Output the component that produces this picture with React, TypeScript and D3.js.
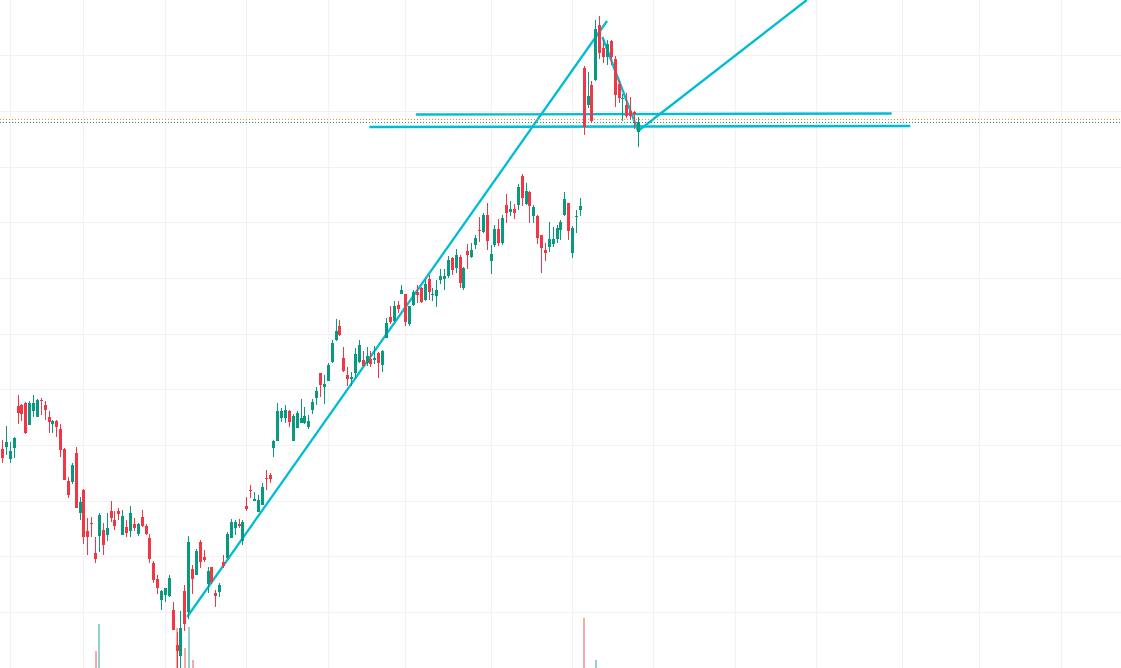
import React from "react";
import * as d3 from "d3";

type Bar = [number, number, number, number]; // open, high, low, close

// price runs in chart units, no axis is shown in the picture
const declineBars: Bar[] = [
  [219,228,205,210],[221,242,213,226],[209,226,205,217],[220,231,210,230],[262,273,244,255],
  [263,264,247,254],[265,266,234,235],[243,267,243,265],[257,273,251,265],[251,269,251,268],
  [268,270,253,267],[263,267,248,258],[251,257,235,246],[244,248,235,247],[247,248,231,241],
  [239,244,211,218],[219,220,188,188],[187,191,170,173],[186,205,184,203],[215,221,160,160],
  [155,171,148,166],[178,179,124,131],[137,150,113,131],[145,151,131,144],[115,131,105,109],
  [132,155,116,153],[138,145,113,123],[133,155,127,140],[157,167,146,150],[148,157,138,142],
  [157,160,148,154],[133,158,133,152],[141,148,131,135],[137,162,131,155],[144,150,137,140],
  [134,145,132,144],[151,158,141,142],[142,144,133,134],[130,134,105,109],[105,107,85,88],
  [89,93,74,80],[68,78,58,77],[73,80,66,80],[72,93,71,90],[58,66,38,38],
  [23,36,-5,17],[12,57,-5,40],
];

const reboundBars: Bar[] = [
  [77,83,37,44],[56,132,49,126],[99,103,74,89],[93,119,93,117],[126,128,100,106],
  [111,118,106,108],[84,101,75,97],[101,101,84,86],[75,78,61,72],[76,85,71,83],
  [106,113,100,102],[110,136,109,134],[130,149,130,146],[140,148,133,146],[144,149,140,142],
  [127,148,123,146],[162,171,157,159],[178,183,170,177],[167,176,167,169],[156,173,156,168],
  [163,185,163,181],[190,198,178,189],[193,195,185,189],[220,228,211,227],[227,265,227,257],
  [250,260,246,257],[250,263,245,258],[257,258,241,246],[227,254,227,252],[240,257,240,255],
  [245,269,245,250],[245,261,244,252],[241,253,239,247],
];

const rallyBars: Bar[] = [
  [258,269,254,266],[270,281,263,277],[295,295,271,283],[281,293,264,284],[287,305,287,303],
  [306,328,305,325],[328,349,327,337],[342,348,332,333],[310,321,296,297],[293,301,282,289],
  [289,296,282,291],[295,320,290,314],[306,328,305,323],[308,317,302,302],[305,321,302,312],
  [309,317,301,304],[308,322,304,310],[315,316,290,305],[303,318,296,317],[330,350,330,345],
  [351,362,344,346],[347,367,346,362],[363,367,355,359],[374,383,374,378],[374,374,342,346],
  [344,362,342,362],[363,378,362,376],[376,383,365,373],[380,381,365,366],[368,389,367,384],
  [389,393,368,376],[373,380,367,374],[372,388,361,378],
];

const toppingBars: Bar[] = [
  [388,399,384,392],[389,399,378,392],[392,412,390,408],[410,411,393,398],[400,419,395,413],
  [411,413,380,385],[380,401,378,400],[417,424,399,413],[411,425,410,418],[423,433,419,430],
  [438,451,426,437],[436,455,435,453],[453,465,418,427],[407,423,394,414],[423,443,421,439],
  [439,449,422,425],[425,453,423,450],[463,474,445,455],[456,467,452,459],[459,464,449,455],
  [463,484,458,481],[492,494,462,470],[464,485,463,477],[476,477,445,462],[452,463,445,461],
  [452,453,424,430],[433,433,395,420],[418,425,407,415],[421,446,416,429],[424,441,421,429],
  [429,443,425,440],[438,448,428,446],[453,476,452,469],[465,465,428,437],[415,442,410,440],
  [451,458,435,452],[458,470,452,462],
];

const spikeBars: Bar[] = [
  [600,602,533,541],[563,596,560,572],[583,587,546,547],[588,648,587,639],[643,652,609,615],
  [620,628,605,611],[611,628,603,624],[627,628,603,611],[609,612,561,573],[584,588,565,570],
  [569,574,547,570],[563,575,550,552],[557,571,548,552],[556,557,539,554],[536,551,521,546],
];

const bars: Bar[] = [...declineBars, ...reboundBars, ...rallyBars, ...toppingBars, ...spikeBars];

// only the volume bars tall enough to reach into the view
const volumeIndex = [24, 25, 45, 47, 48, 49, 150, 153];
const volumeValues = [17, 44, 40, 20, 41, 8, 50, 8];

const gridBars = [2, 21, 42, 63, 84, 104, 126, 147, 168, 189, 210, 232, 252, 273];
const gridPrices = [55.5, 111.5, 166.5, 222.5, 278.5, 333.5, 389.5, 445.5, 500.5, 556.5, 612.5];

// hand drawn trend lines: [bar, price] at both ends
const trendLines: [number, number][][] = [
  [[47.6, 51], [155.9, 647]],
  [[154.7, 631], [163.9, 537]],
  [[163.9, 537], [207.4, 668]],
  [[106.6, 553.5], [229.3, 554.5]],
  [[94.6, 541], [234.1, 542]],
];

const lastPrices = [
  { price: 548.5, color: "#f7931a" },
  { price: 545.5, color: "#089981" },
];

const width = 1121;
const height = 668;
const UP = "#089981";
const DOWN = "#f23645";

export default function App() {
  const x = d3.scaleLinear().domain([0, 164]).range([2.55, 638.46]);
  const y = d3.scaleLinear().domain([0, 668]).range([668, 0]);
  const vol = d3.scaleLinear().domain([0, 50]).range([668, 618]);
  const line = d3
    .line<[number, number]>()
    .x((d) => x(d[0]))
    .y((d) => y(d[1]));
  // candles sit on whole pixels like the original canvas
  const snap = (i: number) => Math.floor(x(i)) + 0.5;

  return (
    <svg
      width={width}
      height={height}
      style={{ position: "absolute", left: 0, top: 0, background: "#fff" }}
    >
      <g stroke="#f2f2f2" shapeRendering="crispEdges">
        {gridBars.map((b) => (
          <line key={b} x1={snap(b)} x2={snap(b)} y1={0} y2={height} />
        ))}
        {gridPrices.map((p) => (
          <line key={p} x1={0} x2={width} y1={y(p)} y2={y(p)} />
        ))}
      </g>

      <g shapeRendering="crispEdges">
        {volumeIndex.map((b, k) => (
          <rect
            key={b}
            x={Math.round(x(b) - 1)}
            y={vol(volumeValues[k])}
            width={2}
            height={height - vol(volumeValues[k])}
            fill={bars[b][3] >= bars[b][0] ? "#92d2cc" : "#f7a9a7"}
          />
        ))}
      </g>

      <g fill="none" stroke="#00bcd4" strokeWidth={2.3}>
        {trendLines.map((l, k) => (
          <path key={k} d={line(l) ?? ""} />
        ))}
      </g>

      {lastPrices.map((d) => (
        <line
          key={d.price}
          x1={0}
          x2={width}
          y1={y(d.price)}
          y2={y(d.price)}
          stroke={d.color}
          strokeDasharray="1 2"
          shapeRendering="crispEdges"
        />
      ))}

      <g shapeRendering="crispEdges">
        {bars.map(([o, h, l, c], i) => {
          const color = c >= o ? UP : DOWN;
          const cx = snap(i);
          return (
            <g key={i} fill={color}>
              <rect x={cx - 0.5} y={y(h)} width={1} height={y(l) - y(h)} />
              <rect
                x={cx - 1.5}
                y={y(Math.max(o, c))}
                width={3}
                height={Math.max(y(Math.min(o, c)) - y(Math.max(o, c)), 1)}
              />
            </g>
          );
        })}
      </g>
    </svg>
  );
}
